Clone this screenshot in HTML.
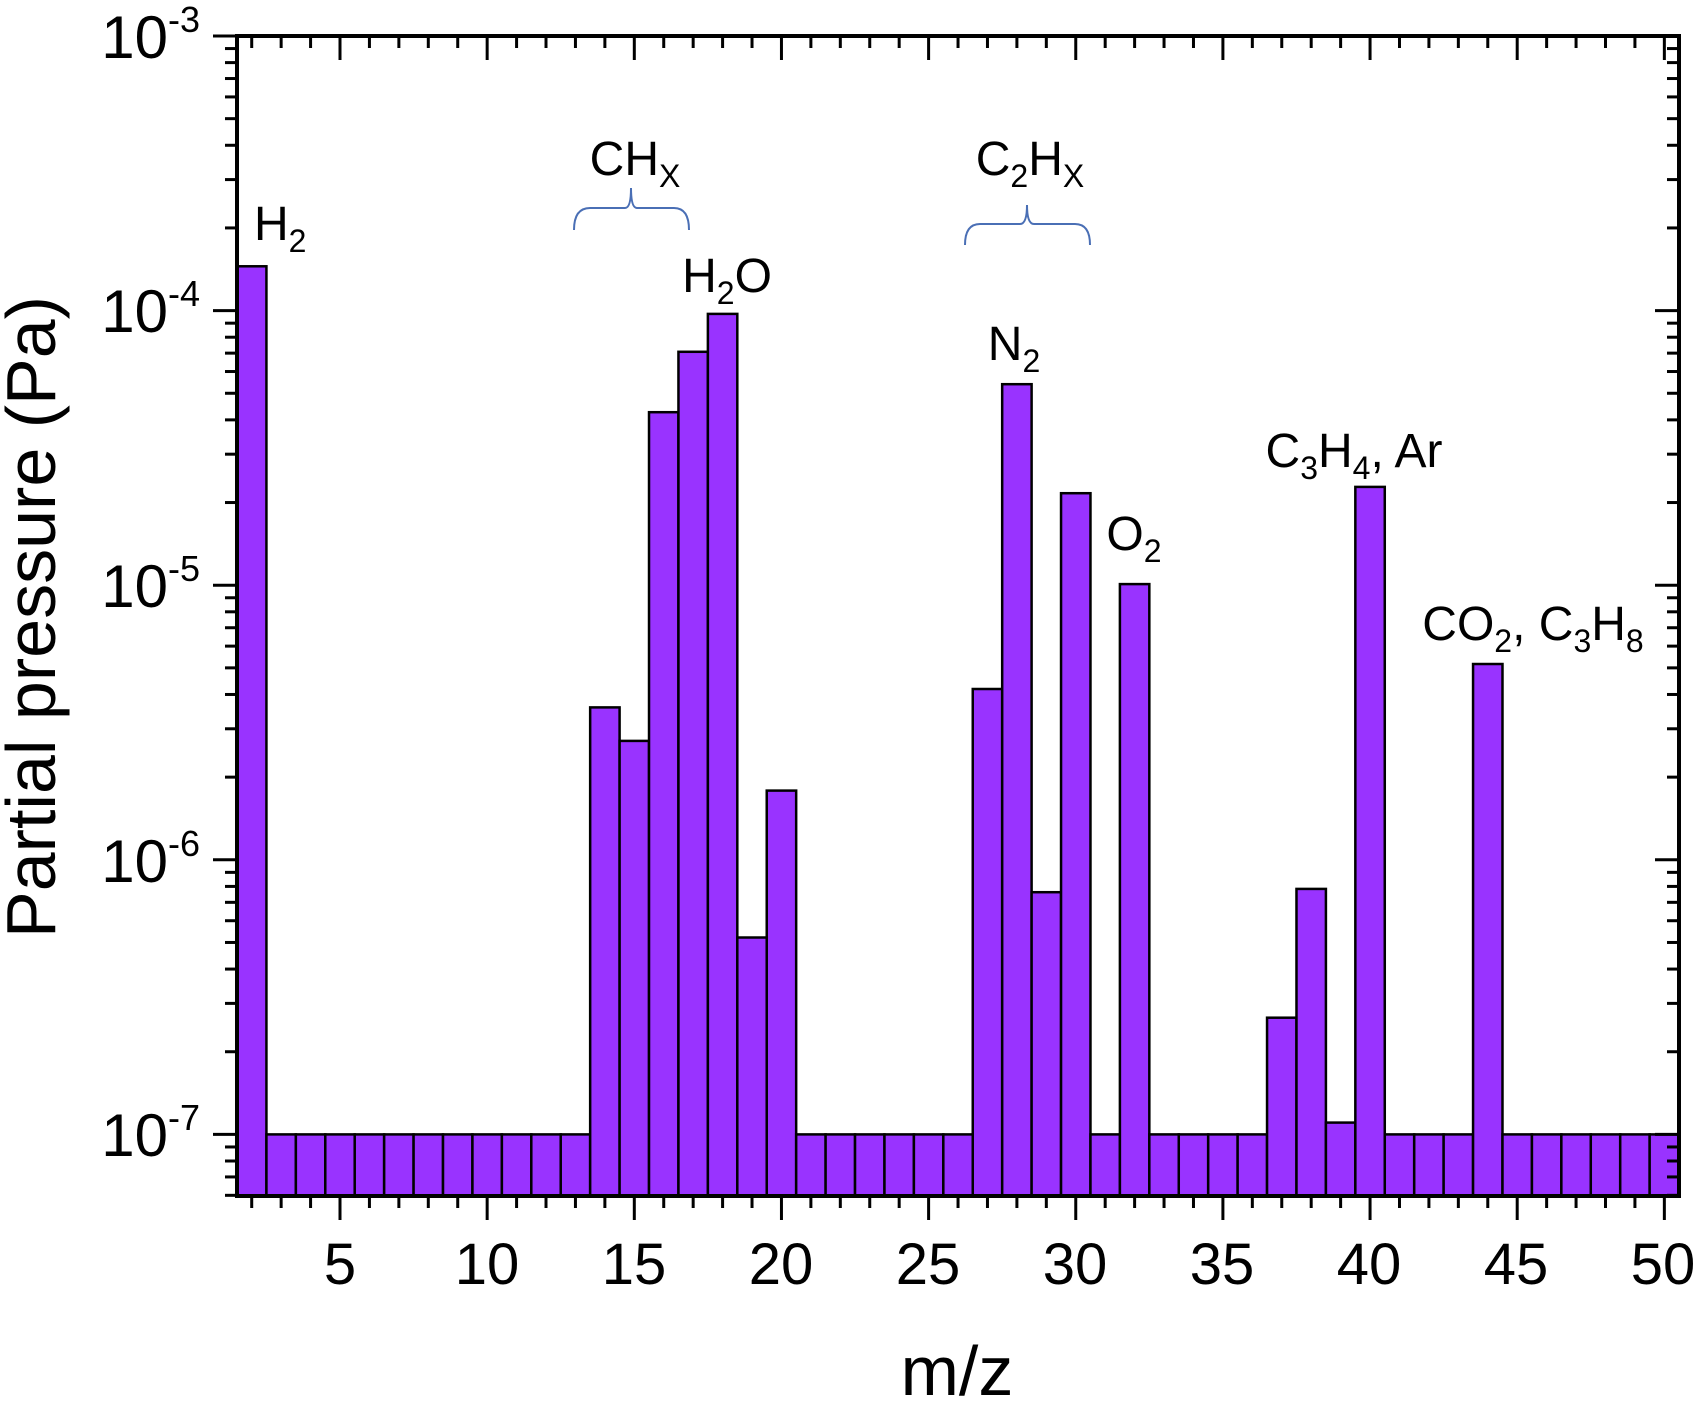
<!DOCTYPE html>
<html><head><meta charset="utf-8"><style>
html,body{margin:0;padding:0;background:#fff}
svg{display:block}
text{font-family:"Liberation Sans",Arial,sans-serif;fill:#000}
</style></head><body>
<svg id="s" width="1697" height="1402" viewBox="0 0 1697 1402" xmlns="http://www.w3.org/2000/svg">
<g id="bars"></g>
<g id="ticks" stroke="#000" stroke-width="3"></g>
<rect x="237" y="36" width="1442" height="1160" fill="none" stroke="#000" stroke-width="4"/>
<g font-size="60" text-anchor="end">
<text x="200" y="58">10<tspan font-size="36" dy="-26">-3</tspan></text>
<text x="200" y="332">10<tspan font-size="36" dy="-26">-4</tspan></text>
<text x="200" y="607">10<tspan font-size="36" dy="-26">-5</tspan></text>
<text x="200" y="882">10<tspan font-size="36" dy="-26">-6</tspan></text>
<text x="200" y="1156">10<tspan font-size="36" dy="-26">-7</tspan></text>
</g>
<g font-size="58" text-anchor="middle">
<text x="340" y="1284">5</text>
<text x="487" y="1284">10</text>
<text x="634" y="1284">15</text>
<text x="781" y="1284">20</text>
<text x="928" y="1284">25</text>
<text x="1075" y="1284">30</text>
<text x="1222" y="1284">35</text>
<text x="1369" y="1284">40</text>
<text x="1516" y="1284">45</text>
<text x="1663" y="1284">50</text>
</g>
<text x="957" y="1395" font-size="70" text-anchor="middle">m/z</text>
<text transform="translate(55,617) rotate(-90)" font-size="70" text-anchor="middle">Partial pressure (Pa)</text>
<g font-size="48">
<text x="254" y="240">H<tspan font-size="32" dy="12">2</tspan></text>
<text x="635" y="175" text-anchor="middle">CH<tspan font-size="32" dy="12">X</tspan></text>
<text x="1030" y="175" text-anchor="middle">C<tspan font-size="32" dy="12">2</tspan><tspan dy="-12">H</tspan><tspan font-size="32" dy="12">X</tspan></text>
<text x="727" y="292" text-anchor="middle">H<tspan font-size="32" dy="12">2</tspan><tspan dy="-12">O</tspan></text>
<text x="1014" y="360" text-anchor="middle">N<tspan font-size="32" dy="12">2</tspan></text>
<text x="1134" y="550" text-anchor="middle">O<tspan font-size="32" dy="12">2</tspan></text>
<text x="1354" y="467" text-anchor="middle">C<tspan font-size="32" dy="12">3</tspan><tspan dy="-12">H</tspan><tspan font-size="32" dy="12">4</tspan><tspan dy="-12">, Ar</tspan></text>
<text x="1533" y="640" text-anchor="middle">CO<tspan font-size="32" dy="12">2</tspan><tspan dy="-12">, C</tspan><tspan font-size="32" dy="12">3</tspan><tspan dy="-12">H</tspan><tspan font-size="32" dy="12">8</tspan></text>
</g>
<g fill="none" stroke="#4a6fb5" stroke-width="2">
<path d="M574,230 Q574,208 590,208 L625,208 Q631,208 631,188 Q631,208 637,208 L674,208 Q689,208 689,230"/>
<path d="M965,245 Q965,224 980,224 L1020,224 Q1027,224 1027,205 Q1027,224 1034,224 L1075,224 Q1090,224 1090,245"/>
</g>
</svg>
<script>
(function(){
var NS="http://www.w3.org/2000/svg";
var X0=237,UX=29.43,Y0=36,D=274.6,BOT=1196;
function xm(m){return X0+(m-1.5)*UX;}
function yl(l){return Y0+(-3-l)*D;}
var v={2:Math.log10(1.45e-4),14:-5.445,15:-5.567,16:-4.370,17:-4.150,18:-4.012,19:-6.283,20:-5.748,27:-5.378,28:-4.268,29:-6.118,30:-4.665,32:-4.996,37:-6.575,38:-6.106,39:-6.957,40:-4.642,44:-5.287};
var g=document.getElementById('bars');
for(var m=2;m<=50;m++){
 var l=(v[m]!==undefined)?v[m]:-7;
 var r=document.createElementNS(NS,'rect');
 var x=xm(m-0.5),y=yl(l);
 r.setAttribute('x',x);r.setAttribute('y',y);
 r.setAttribute('width',UX);r.setAttribute('height',BOT-y);
 r.setAttribute('fill','#9933ff');r.setAttribute('stroke','#000');r.setAttribute('stroke-width','2.5');
 g.appendChild(r);
}
var t=document.getElementById('ticks');
function ln(a,b,c,d){var e=document.createElementNS(NS,'line');e.setAttribute('x1',a);e.setAttribute('y1',b);e.setAttribute('x2',c);e.setAttribute('y2',d);t.appendChild(e);}
for(var m=2;m<=50;m++){var x=xm(m);var L=(m%5==0)?24:12;ln(x,BOT,x,BOT+L);ln(x,36,x,36+L);}
for(var e=-8;e<=-3;e++){for(var k=1;k<=9;k++){var y=yl(e+Math.log10(k));if(y<36-1||y>BOT+1)continue;var L=(k==1)?24:12;ln(237,y,237-L,y);ln(1679,y,1679-L,y);}}
})();
</script>
</body></html>
